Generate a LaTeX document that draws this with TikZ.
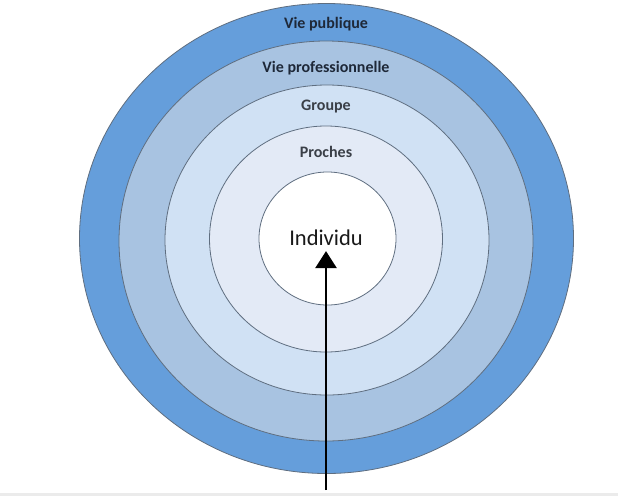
\documentclass[tikz,border=0pt]{standalone}
\usepackage{fontspec}
\setmainfont{Carlito}
\usetikzlibrary{arrows.meta}
\definecolor{ringA}{HTML}{659EDB}
\definecolor{ringB}{HTML}{A8C3E1}
\definecolor{ringC}{HTML}{D0E1F4}
\definecolor{ringD}{HTML}{E3EAF6}
\definecolor{edge}{HTML}{5F6E80}
\definecolor{txt}{HTML}{1E2838}
\definecolor{txtb}{HTML}{3A3F47}
\begin{document}
\begin{tikzpicture}[x=1pt,y=-1pt,
  ring/.style={draw=edge, line width=0.8pt},
  lbl/.style={font=\fontsize{16}{18}\selectfont\bfseries, text=txt, inner sep=0pt},
  lblb/.style={font=\fontsize{16}{18}\selectfont\bfseries, text=txtb, inner sep=0pt},
  arr/.style={line width=2.6pt, -{Triangle[length=17pt,width=21pt]}}]
\useasboundingbox (0,0) rectangle (618,496);
\fill[white] (0,0) rectangle (618,496);
\fill[black!8] (0,493) rectangle (618,496);
\draw[ring, fill=ringA] (326.5,238.5) ellipse [x radius=247, y radius=235];
\draw[ring, fill=ringB] (326,241) ellipse [x radius=207, y radius=200];
\draw[ring, fill=ringC] (327,240) ellipse [x radius=162, y radius=155];
\draw[ring, fill=ringD] (326,239) ellipse [x radius=116.5, y radius=113];
\draw[ring, fill=white] (327.5,238.5) ellipse [x radius=68.5, y radius=66.5];
\node[lbl]  (pub)  at (326,24)  {Vie publique};
\node[lbl]  (pro)  at (326,68)  {Vie professionnelle};
\node[lblb] (grp)  at (326,107) {Groupe};
\node[lblb] (pch)  at (326,152) {Proches};
\node[font=\fontsize{22.5}{24}\selectfont, text=black!90, inner sep=0pt] (ind) at (326,238) {Individu};
\coordinate (src) at (326,490);
\draw[arr] (src) -- ([yshift=-5pt]ind.south);
\end{tikzpicture}
\end{document}
